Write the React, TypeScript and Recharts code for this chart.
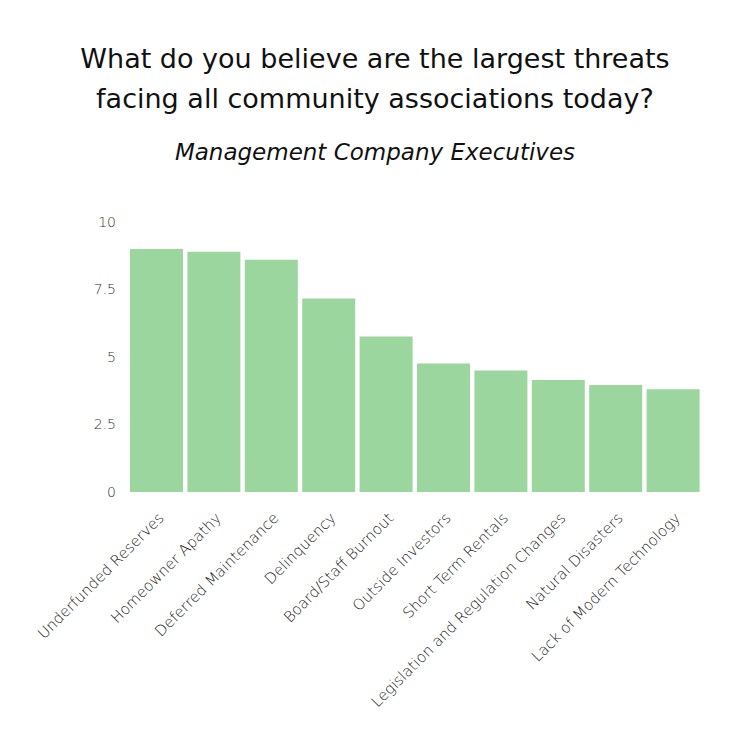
import React from 'react';
import { BarChart, Bar, XAxis, YAxis } from 'recharts';

const threats = [
  'Underfunded Reserves',
  'Homeowner Apathy',
  'Deferred Maintenance',
  'Delinquency',
  'Board/Staff Burnout',
  'Outside Investors',
  'Short Term Rentals',
  'Legislation and Regulation Changes',
  'Natural Disasters',
  'Lack of Modern Technology',
];

const scores = [9.0, 8.9, 8.6, 7.17, 5.76, 4.76, 4.5, 4.15, 3.96, 3.81];

const yTicks = [0, 2.5, 5, 7.5, 10];

const data = threats.map((name, i) => ({ name, score: scores[i] }));

const FONT = '"DejaVu Sans", sans-serif';

const AngledTick = (props: any) => {
  const { x, y, payload } = props;
  return (
    <g transform={`translate(${x + 8},${y + 19})`}>
      <text
        x={0}
        y={0}
        textAnchor="end"
        transform="rotate(-45)"
        fill="#222"
        fontSize={15}
        fontFamily={FONT}
        fontWeight={200}
      >
        {payload.value}
      </text>
    </g>
  );
};

export default function App() {
  return (
    <div style={{ position: 'relative', width: 750, height: 750, margin: -8, background: '#fff', fontFamily: FONT }}>
      <div
        style={{
          position: 'absolute',
          top: 39,
          left: 0,
          width: 750,
          textAlign: 'center',
          fontSize: 27,
          lineHeight: '40px',
          color: '#111',
        }}
      >
        What do you believe are the largest threats
        <br />
        facing all community associations today?
      </div>
      <div
        style={{
          position: 'absolute',
          top: 139,
          left: 0,
          width: 750,
          textAlign: 'center',
          fontSize: 23,
          fontStyle: 'italic',
          fontWeight: 300,
          color: '#111',
        }}
      >
        Management Company Executives
      </div>
      <BarChart
        width={750}
        height={750}
        data={data}
        margin={{ top: 222, right: 48, left: 0, bottom: 0 }}
        barCategoryGap={2}
        style={{ position: 'absolute', top: 0, left: 0 }}
      >
        <XAxis
          dataKey="name"
          axisLine={false}
          tickLine={false}
          interval={0}
          tick={<AngledTick />}
          height={258}
        />
        <YAxis
          width={128}
          domain={[0, 10]}
          ticks={yTicks}
          axisLine={false}
          tickLine={false}
          tickMargin={6}
          tick={{ fill: '#333', fontSize: 14, fontFamily: FONT, fontWeight: 200 }}
        />
        <Bar dataKey="score" fill="#9bd69e" isAnimationActive={false} />
      </BarChart>
    </div>
  );
}
